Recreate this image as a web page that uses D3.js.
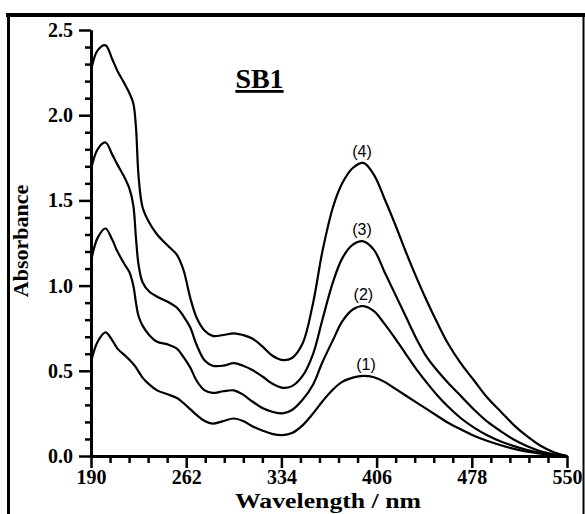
<!DOCTYPE html>
<html>
<head>
<meta charset="utf-8">
<script src="https://cdn.jsdelivr.net/npm/d3@7"></script>
<style>
  html, body { margin: 0; padding: 0; background: #fff; }
  svg { display: block; }
</style>
</head>
<body>
<div id="chart"></div>
<script>
// ---------------- DATA ----------------
const wavelengths = [190,195,201,206,210,215,219,222,224,226,229,234,240,248,255,260,265,270,276,282,290,298,305,312,320,327,335,342,350,358,365,373,380,388,396,404,412,420,428,436,444,452,460,470,480,490,500,510,520,530,540,550];

const curve1 = [0.55,0.67,0.725,0.68,0.63,0.595,0.565,0.54,0.52,0.495,0.46,0.42,0.385,0.362,0.34,0.31,0.275,0.24,0.205,0.19,0.205,0.22,0.205,0.175,0.148,0.13,0.123,0.135,0.18,0.25,0.32,0.39,0.435,0.46,0.47,0.462,0.435,0.395,0.355,0.315,0.275,0.235,0.195,0.155,0.118,0.088,0.063,0.042,0.026,0.014,0.006,0.0];

const curve2 = [1.14,1.28,1.335,1.27,1.2,1.13,1.08,1.0,0.9,0.82,0.765,0.71,0.67,0.655,0.63,0.58,0.52,0.44,0.385,0.37,0.38,0.385,0.36,0.32,0.28,0.26,0.25,0.27,0.33,0.42,0.55,0.68,0.79,0.86,0.88,0.85,0.775,0.69,0.6,0.51,0.43,0.355,0.29,0.22,0.165,0.12,0.085,0.058,0.035,0.018,0.007,0.0];

const curve3 = [1.68,1.80,1.84,1.77,1.71,1.64,1.57,1.47,1.28,1.12,1.02,0.965,0.935,0.905,0.87,0.82,0.755,0.65,0.56,0.53,0.53,0.545,0.53,0.505,0.465,0.425,0.40,0.41,0.47,0.6,0.8,1.02,1.16,1.24,1.26,1.21,1.08,0.95,0.82,0.69,0.58,0.5,0.43,0.35,0.27,0.2,0.145,0.095,0.057,0.028,0.01,0.0];

const curve4 = [2.26,2.38,2.41,2.33,2.26,2.19,2.13,2.07,1.93,1.64,1.46,1.37,1.30,1.235,1.18,1.09,0.93,0.81,0.735,0.705,0.71,0.72,0.71,0.69,0.64,0.59,0.563,0.575,0.66,0.9,1.2,1.46,1.6,1.69,1.72,1.65,1.51,1.36,1.2,1.05,0.91,0.78,0.66,0.54,0.44,0.34,0.26,0.18,0.115,0.06,0.022,0.0];

const seriesNames = ["(1)","(2)","(3)","(4)"];
const peakWavelength = [398, 396, 395, 395];
const peakLabelValue = [0.47, 0.88, 1.26, 1.72];

const xMajorTicks = [190,262,334,406,478,550];
const yMajorTicks = [0.0,0.5,1.0,1.5,2.0,2.5];
const yTickLabels = ["0.0","0.5","1.0","1.5","2.0","2.5"];

const title = "SB1";
const xLabel = "Wavelength / nm";
const yLabel = "Absorbance";

// ---------------- DRAW ----------------
const W = 585, H = 514;
const svg = d3.select("#chart").append("svg").attr("width", W).attr("height", H);

// frame
svg.append("line").attr("x1",6).attr("x2",585).attr("y1",15).attr("y2",15).attr("stroke","#000").attr("stroke-width",4);
svg.append("line").attr("x1",8.5).attr("x2",8.5).attr("y1",13).attr("y2",H).attr("stroke","#000").attr("stroke-width",3);
svg.append("line").attr("x1",583.5).attr("x2",583.5).attr("y1",13).attr("y2",H).attr("stroke","#000").attr("stroke-width",2);

const x = d3.scaleLinear().domain([190,550]).range([91,567]);
const y = d3.scaleLinear().domain([0,2.5]).range([456,30]);

const serif = "'Liberation Serif','Times New Roman',serif";

// minor ticks
const xMinor = d3.range(190, 550.001, 14.4).filter(v => !xMajorTicks.some(t => Math.abs(t-v) < 1e-6));
const yMinor = d3.range(0, 2.5001, 0.1).filter(v => !yMajorTicks.some(t => Math.abs(t-v) < 1e-6));

const gxMinor = svg.append("g").attr("transform",`translate(0,${y(0)})`)
  .call(d3.axisBottom(x).tickValues(xMinor).tickSize(7).tickSizeOuter(0).tickFormat(""));
const gyMinor = svg.append("g").attr("transform",`translate(${x(190)},0)`)
  .call(d3.axisLeft(y).tickValues(yMinor).tickSize(6).tickSizeOuter(0).tickFormat(""));

const gx = svg.append("g").attr("transform",`translate(0,${y(0)})`)
  .call(d3.axisBottom(x).tickValues(xMajorTicks).tickSize(12).tickSizeOuter(0).tickPadding(2).tickFormat(d3.format("d")));
const gy = svg.append("g").attr("transform",`translate(${x(190)},0)`)
  .call(d3.axisLeft(y).tickValues(yMajorTicks).tickSize(12).tickSizeOuter(0).tickPadding(6).tickFormat((d,i) => yTickLabels[i]));

[gxMinor, gyMinor, gx, gy].forEach(g => {
  g.selectAll("path.domain").attr("stroke","#000").attr("stroke-width",3);
  g.selectAll(".tick line").attr("stroke","#000").attr("stroke-width",2.5);
});
gx.selectAll(".tick text").attr("font-family",serif).attr("font-weight","bold").attr("font-size",20).attr("fill","#000");
gy.selectAll(".tick text").attr("font-family",serif).attr("font-weight","bold").attr("font-size",20).attr("fill","#000");

// curves
const allSeries = [curve1, curve2, curve3, curve4];
const line = d3.line().x(d => x(d[0])).y(d => y(d[1])).curve(d3.curveCatmullRom.alpha(0.5));
allSeries.forEach(s => {
  svg.append("path")
    .datum(wavelengths.map((w,i) => [w, s[i]]))
    .attr("fill","none").attr("stroke","#000").attr("stroke-width",2.2)
    .attr("stroke-linejoin","round")
    .attr("d", line);
});

// curve labels
seriesNames.forEach((n,i) => {
  svg.append("text")
    .attr("x", x(peakWavelength[i])).attr("y", y(peakLabelValue[i]) - 6)
    .attr("text-anchor","middle")
    .attr("font-family","'Liberation Sans',Arial,sans-serif")
    .attr("font-size",16).attr("fill","#000")
    .text(n);
});

// title
svg.append("text").attr("x",259.5).attr("y",88).attr("text-anchor","middle")
  .attr("font-family",serif).attr("font-weight","bold").attr("font-size",28)
  .attr("text-decoration","underline").text(title);

// axis labels
svg.append("text").attr("x",328).attr("y",508).attr("text-anchor","middle")
  .attr("font-family",serif).attr("font-weight","bold").attr("font-size",21)
  .attr("textLength",186).attr("lengthAdjust","spacingAndGlyphs").text(xLabel);
svg.append("text").attr("transform","translate(28,241) rotate(-90)").attr("text-anchor","middle")
  .attr("font-family",serif).attr("font-weight","bold").attr("font-size",22).text(yLabel);
</script>
</body>
</html>
